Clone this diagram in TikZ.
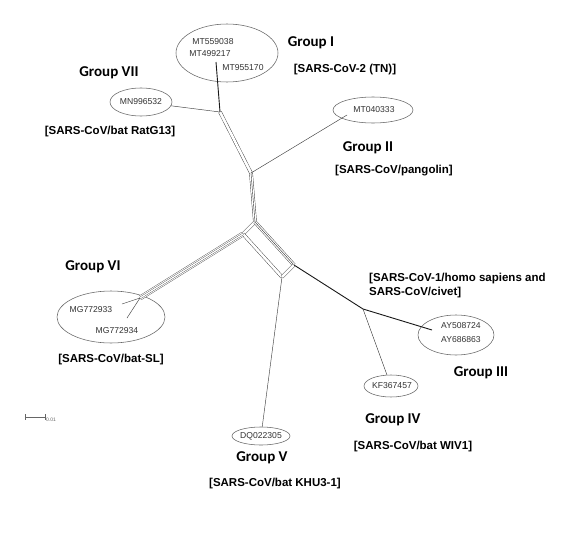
\documentclass[tikz,border=0pt]{standalone}
\usepackage{fontspec}
\setmainfont{Liberation Sans}
\newfontfamily\grpfont{Carlito}
\usetikzlibrary{shapes.geometric,calc}
\begin{document}
\begin{tikzpicture}[x=1pt,y=-1pt,
  ell/.style={ellipse,draw=black!60,line width=0.55pt,inner sep=0pt},
  acc/.style={font=\fontsize{8.6}{10}\selectfont,text=black!80,inner sep=0pt},
  grp/.style={font=\grpfont\bfseries\fontsize{15}{17}\selectfont,inner sep=0pt},
  host/.style={font=\bfseries\fontsize{11.5}{14}\selectfont,inner sep=0pt,align=left},
  thinl/.style={draw=black!75,line width=0.45pt},
  darkl/.style={draw=black!90,line width=0.9pt},
  band2/.style={draw=black!80,line width=0.4pt,double=white,double distance=2.6pt},
  band3/.style={draw=black!80,line width=0.4pt,double=white,double distance=2.8pt,
     postaction={draw=black!80,line width=0.4pt,double=none}},
  band4/.style={draw=black!75,line width=0.35pt,double=white,double distance=4pt},
  band4i/.style={draw=black!75,line width=0.35pt,double=white,double distance=1.3pt}]
\useasboundingbox (0,0) rectangle (568,549);
\fill[white] (0,0) rectangle (568,549);

% ellipses
\node[ell,minimum width=102pt,minimum height=58pt] (e1) at (227,53) {};
\node[ell,minimum width=62pt,minimum height=28pt] (e7) at (141,102) {};
\node[ell,minimum width=80pt,minimum height=26pt] (e2) at (373,110) {};
\node[ell,minimum width=108pt,minimum height=52pt] (e6) at (111,317) {};
\node[ell,minimum width=76pt,minimum height=40pt] (e3) at (456,335) {};
\node[ell,minimum width=54pt,minimum height=22pt] (e4) at (391,386) {};
\node[ell,minimum width=58pt,minimum height=18pt] (e5) at (261,436) {};

% network points
\coordinate (l1) at (216,62);
\coordinate (B) at (220,112);
\coordinate (C) at (251,173);
\coordinate (D) at (255,222);
\coordinate (E) at (243,234);
\coordinate (F) at (294,265);
\coordinate (G) at (282,277);
\coordinate (S3) at (363,309);
\coordinate (l3) at (432,330);
\coordinate (l2) at (347,115);
\coordinate (S6) at (140,298);
\coordinate (l6a) at (122,304);
\coordinate (l6b) at (127,318);

% bands
\draw[band2] (B) -- (C);
\draw[band3] (C) -- (D);
\draw[band2] (D) -- (E);
\draw[band3] (D) -- (F);
\draw[band2] (E) -- (G);
\draw[band2] (F) -- (G);
\draw[band4] (E) -- (S6);
\draw[band4i] (E) -- (S6);

% single edges
\draw[darkl] (l1) -- (B);
\draw[thinl] (B) -- (e7);
\draw[thinl] (C) -- (l2);
\draw[darkl] (F) -- (S3);
\draw[darkl] (S3) -- (l3);
\draw[thinl] (S3) -- (e4);
\draw[thinl] (G) -- (e5);
\draw[thinl] (S6) -- (l6a);
\draw[thinl] (S6) -- (l6b);

% accession texts
\node[acc] (t1a) at (213,42) {MT559038};
\node[acc] (t1b) at (210,54) {MT499217};
\node[acc] (t1c) at (243,68) {MT955170};
\node[acc] (t7) at (141,102) {MN996532};
\node[acc] (t2) at (374,110) {MT040333};
\node[acc] (t6a) at (91,310) {MG772933};
\node[acc] (t6b) at (117,331) {MG772934};
\node[acc] (t3a) at (461,326) {AY508724};
\node[acc] (t3b) at (461,340) {AY686863};
\node[acc] (t4) at (392,386) {KF367457};
\node[acc] (t5) at (261,436) {DQ022305};

% group labels
\node[grp] (g1) at (311,43) {Group I};
\node[grp] (g7) at (109,73) {Group VII};
\node[grp] (g2) at (368,148) {Group II};
\node[grp] (g6) at (93,267) {Group VI};
\node[grp] (g3) at (481,373) {Group III};
\node[grp] (g4) at (393,420) {Group IV};
\node[grp] (g5) at (262,458) {Group V};

% host labels
\node[host] (h1) at (345,70) {[SARS-CoV-2 (TN)]};
\node[host] (h7) at (110,132) {[SARS-CoV/bat RatG13]};
\node[host] (h2) at (394,171) {[SARS-CoV/pangolin]};
\node[host] (h6) at (111,360) {[SARS-CoV/bat-SL]};
\node[host,anchor=west] (h3) at (369,286) {[SARS-CoV-1/homo sapiens and\\SARS-CoV/civet]};
\node[host] (h4) at (413,447) {[SARS-CoV/bat WIV1]};
\node[host] (h5) at (275,484) {[SARS-CoV/bat KHU3-1]};

% scale bar
\coordinate (sb1) at (25,417);
\coordinate (sb2) at (45,417);
\draw[|-|,draw=black!60,line width=0.4pt] (sb1) -- (sb2);
\node[font=\fontsize{5}{6}\selectfont,text=black!60,anchor=west,inner sep=0pt] (sbl) at (46,420) {0.01};
\end{tikzpicture}
\end{document}
